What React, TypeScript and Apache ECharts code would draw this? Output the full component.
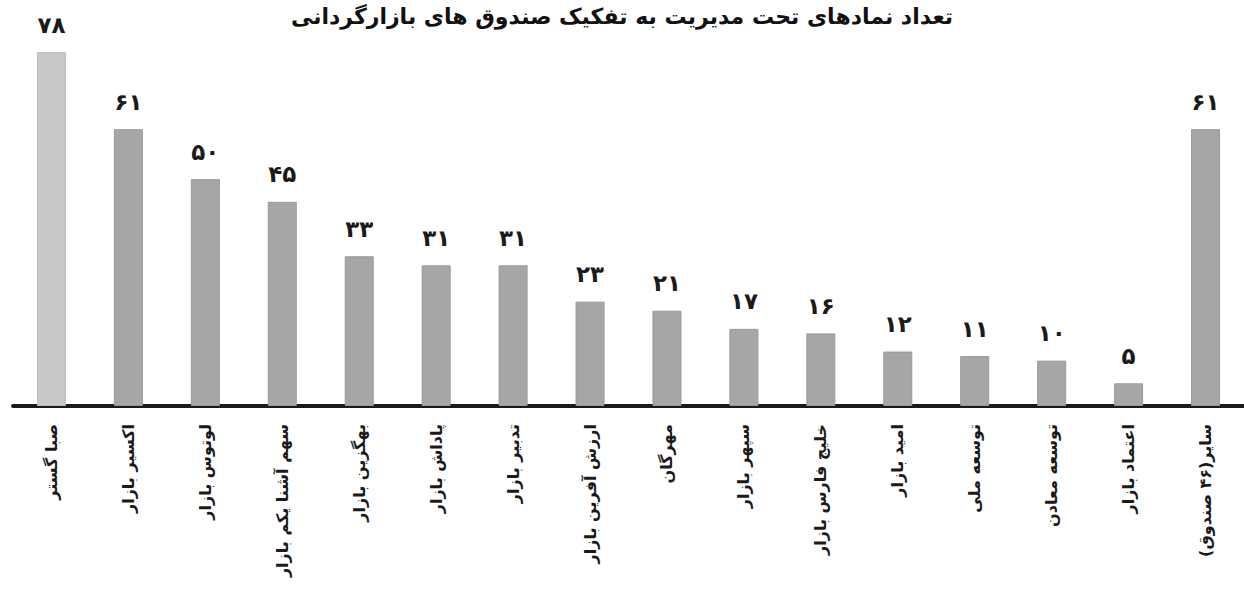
import React, { useEffect, useRef } from "react";
import * as echarts from "echarts";

const titleText = "تعداد نمادهای تحت مدیریت به تفکیک صندوق های بازارگردانی";
const categories = [
  "صبا گستر",
  "اکسیر بازار",
  "لوتوس بازار",
  "سهم آشنا یکم بازار",
  "بهگزین بازار",
  "پاداش بازار",
  "تدبیر بازار",
  "ارزش آفرین بازار",
  "مهرگان",
  "سپهر بازار",
  "خلیج فارس بازار",
  "امید بازار",
  "توسعه ملی",
  "توسعه معادن",
  "اعتماد بازار",
  "سایر(۴۶ صندوق)",
];
const values = [78, 61, 50, 45, 33, 31, 31, 23, 21, 17, 16, 12, 11, 10, 5, 61];

const faDigits = "۰۱۲۳۴۵۶۷۸۹";
const toFa = (n: number) => String(n).replace(/\d/g, (d) => faDigits[Number(d)]);

export default function App() {
  const ref = useRef<HTMLDivElement>(null);
  useEffect(() => {
    if (!ref.current) return;
    const chart = echarts.init(ref.current, null, { renderer: "svg" });
    const font = "'DejaVu Sans', sans-serif";
    chart.setOption({
      animation: false,
      backgroundColor: "#ffffff",
      title: {
        text: titleText,
        left: "center",
        top: 0,
        textStyle: { fontFamily: font, fontSize: 22, fontWeight: "bold", color: "#111" },
      },
      grid: { left: 13, width: 1235, top: 43, bottom: 198 },
      xAxis: {
        type: "category",
        data: categories,
        axisLine: { show: true, lineStyle: { color: "#1a1a1a", width: 4 } },
        axisTick: { show: false },
        axisLabel: {
          rotate: 90,
          interval: 0,
          margin: 18,
          fontFamily: font,
          fontSize: 16,
          fontWeight: "bold",
          color: "#1a1a1a",
        },
      },
      yAxis: {
        type: "value",
        min: 0,
        max: 80,
        show: false,
        splitLine: { show: false },
      },
      series: [
        {
          type: "bar",
          data: values.map((v, i) => ({
            value: v,
            itemStyle: i === 0 ? { color: "#c9c9c9", borderColor: "#bdbdbd" } : { color: "#a6a6a6", borderColor: "#999" },
          })),
          barWidth: 29,
          itemStyle: { borderWidth: 1 },
          label: {
            show: true,
            position: "top",
            distance: 16,
            formatter: (p: any) => toFa(p.value),
            fontFamily: font,
            fontSize: 23,
            fontWeight: "bold",
            color: "#1a1a1a",
          },
        },
      ],
    });
    return () => chart.dispose();
  }, []);
  return (
    <div
      ref={ref}
      style={{ position: "absolute", left: 0, top: 0, width: 1244, height: 604 }}
    />
  );
}
